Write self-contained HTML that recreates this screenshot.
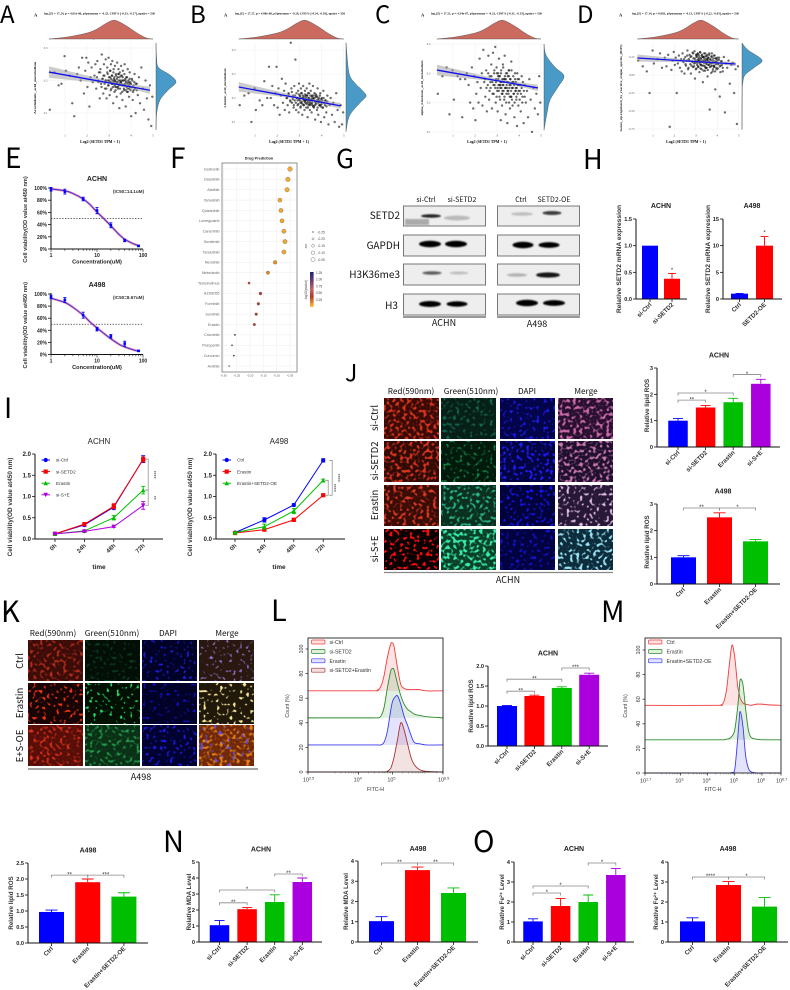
<!DOCTYPE html>
<html lang="en">
<head>
<meta charset="utf-8">
<title>SETD2 ferroptosis figure</title>
<style>
html,body{margin:0;padding:0;background:#fff;width:790px;height:990px;overflow:hidden}
svg{display:block;font-family:"Liberation Sans",Arial,sans-serif}
.letter{font-family:"Noto Sans CJK SC","Liberation Sans",sans-serif;fill:#000}
.hdr{font-family:"Noto Sans CJK SC","Liberation Sans",sans-serif;fill:#111}
</style>
</head>
<body>
<svg id="fig" xmlns="http://www.w3.org/2000/svg" width="790" height="990" viewBox="0 0 790 990">
<defs id="defs">
<filter id="bandBlur" x="-30%" y="-80%" width="160%" height="260%"><feGaussianBlur stdDeviation="0.7"/></filter>
<linearGradient id="sigGrad" x1="0" y1="0" x2="0" y2="1"><stop offset="0" stop-color="#23246e"/><stop offset="0.25" stop-color="#6a3a78"/><stop offset="0.5" stop-color="#c0646e"/><stop offset="0.7" stop-color="#b8342a"/><stop offset="1" stop-color="#fdc33a"/></linearGradient>
</defs>
<rect width="790" height="990" fill="#fff"/>
<text class="letter" x="0" y="23" font-size="24">A</text>
<text class="letter" x="190" y="23" font-size="24">B</text>
<text class="letter" x="375" y="23" font-size="24">C</text>
<text class="letter" x="577" y="23" font-size="24">D</text>
<text class="letter" x="5" y="168" font-size="28">E</text>
<text class="letter" x="170" y="168" font-size="28">F</text>
<text class="letter" x="336" y="168" font-size="26">G</text>
<text class="letter" x="583" y="169" font-size="27">H</text>
<text class="letter" x="4" y="418" font-size="28">I</text>
<text class="letter" x="345" y="381" font-size="23">J</text>
<text class="letter" x="1" y="622" font-size="29">K</text>
<text class="letter" x="271" y="621" font-size="29">L</text>
<text class="letter" x="601" y="622" font-size="29">M</text>
<text class="letter" x="163" y="852" font-size="29">N</text>
<text class="letter" x="473" y="852" font-size="29">O</text>

<g>
  <g fill="#eeeeee" stroke="#777" stroke-width="1">
    <rect x="403.5" y="206" width="82" height="20"/>
    <rect x="403.5" y="235" width="82" height="21"/>
    <rect x="403.5" y="264" width="82" height="21"/>
    <rect x="403.5" y="294" width="82" height="21"/>
    <rect x="497.5" y="206" width="82" height="20"/>
    <rect x="497.5" y="235" width="82" height="21"/>
    <rect x="497.5" y="264" width="82" height="21"/>
    <rect x="497.5" y="294" width="82" height="21"/>
  </g>
  <g filter="url(#bandBlur)" fill="#000">
    <rect x="405" y="219" width="24" height="6" fill="#aaa"/>
    <ellipse cx="431" cy="216" rx="10" ry="1.8" opacity=".85"/>
    <ellipse cx="457" cy="218" rx="13" ry="2.5" opacity=".22"/>
    <ellipse cx="430" cy="244" rx="11" ry="3.2"/>
    <ellipse cx="456" cy="244" rx="11" ry="3.2"/>
    <ellipse cx="432" cy="273" rx="9.5" ry="1.7" opacity=".6"/>
    <ellipse cx="459" cy="273" rx="9.5" ry="1.5" opacity=".2"/>
    <ellipse cx="430" cy="304" rx="11" ry="3"/>
    <ellipse cx="457" cy="304" rx="10.5" ry="2.7"/>
    <ellipse cx="522" cy="214" rx="11" ry="1.7" opacity=".2"/>
    <ellipse cx="552" cy="213" rx="9.5" ry="2" opacity=".75"/>
    <ellipse cx="523" cy="245" rx="10.5" ry="3.2"/>
    <ellipse cx="549" cy="245" rx="10.5" ry="2.9"/>
    <ellipse cx="517" cy="275" rx="10" ry="1.7" opacity=".25"/>
    <ellipse cx="548" cy="275" rx="12" ry="2.6" opacity=".9"/>
    <ellipse cx="527" cy="303" rx="11" ry="3.2"/>
    <ellipse cx="554" cy="303" rx="11" ry="2.9"/>
  </g>
  <g class="hdr" font-size="7" text-anchor="middle" fill="#222">
    <text x="426" y="202">si-Ctrl</text>
    <text x="462" y="202">si-SETD2</text>
    <text x="521" y="202">Ctrl</text>
    <text x="554" y="202">SETD2-OE</text>
  </g>
  <g class="hdr" font-size="10" text-anchor="end">
    <text x="400" y="219">SETD2</text>
    <text x="400" y="249">GAPDH</text>
    <text x="400" y="278">H3K36me3</text>
    <text x="398" y="309">H3</text>
  </g>
  <path d="M403 317H486" stroke="#333" stroke-width="1"/>
  <path d="M497 317H580" stroke="#333" stroke-width="1"/>
  <text class="hdr" x="444" y="326" font-size="9" text-anchor="middle">ACHN</text>
  <text class="hdr" x="537" y="327" font-size="9" text-anchor="middle">A498</text>
</g>

<g id="microJ">
  <g class="hdr" font-size="8.2" text-anchor="middle">
    <text x="411" y="394">Red(590nm)</text>
    <text x="471" y="394">Green(510nm)</text>
    <text x="527" y="394">DAPI</text>
    <text x="586" y="394">Merge</text>
  </g>
  <g class="hdr" font-size="9.5" text-anchor="middle">
    <text transform="translate(378,418) rotate(-90)">si-Ctrl</text>
    <text transform="translate(378,461) rotate(-90)">si-SETD2</text>
    <text transform="translate(378,505) rotate(-90)">Erastin</text>
    <text transform="translate(378,549) rotate(-90)">si-S+E</text>
  </g>
  <path d="M384 572.5H613" stroke="#888" stroke-width="1.2"/>
  <text class="hdr" x="508" y="583" font-size="9" text-anchor="middle">ACHN</text>
</g>
<g id="microK">
  <g class="hdr" font-size="8.2" text-anchor="middle">
    <text x="53" y="636">Red(590nm)</text>
    <text x="112" y="636">Green(510nm)</text>
    <text x="168" y="636">DAPI</text>
    <text x="227" y="636">Merge</text>
  </g>
  <g class="hdr" font-size="9.5" text-anchor="middle">
    <text transform="translate(23,661) rotate(-90)">Ctrl</text>
    <text transform="translate(23,703) rotate(-90)">Erastin</text>
    <text transform="translate(23,746) rotate(-90)">E+S-OE</text>
  </g>
  <path d="M28 769H258" stroke="#888" stroke-width="1.5"/>
  <text class="hdr" x="141" y="780" font-size="9" text-anchor="middle">A498</text>
</g>
</svg>

<script>
/* ---------- correlation panels A-D ---------- */
var setdX=[0.31,0.52,0.71,0.84,0.98,1.04,1.21,1.33,1.42,1.55,1.63,1.71,1.78,1.86,1.92,1.97,2.02,2.06,2.11,2.16,2.21,2.26,2.31,2.34,2.38,2.42,2.47,2.51,2.54,2.58,2.61,2.64,2.67,2.71,2.74,2.77,2.79,2.82,2.85,2.87,2.89,2.92,2.94,2.96,2.98,3.01,3.03,3.05,3.07,3.09,3.11,3.13,3.15,3.17,3.19,3.21,3.23,3.25,3.27,3.29,3.31,3.33,3.35,3.37,3.39,3.41,3.43,3.45,3.47,3.49,3.51,3.53,3.55,3.57,3.59,3.61,3.63,3.65,3.68,3.71,3.73,3.76,3.79,3.82,3.85,3.88,3.91,3.94,3.97,4.01,4.04,4.08,4.12,4.16,4.21,4.26,4.31,4.36,4.41,4.47,4.53,4.59,4.66,4.72,4.79,4.86,4.92,4.97];
var setdXCore=[2.45,2.52,2.6,2.66,2.7,2.75,2.8,2.84,2.88,2.92,2.95,2.98,3.0,3.03,3.06,3.08,3.1,3.12,3.14,3.16,3.18,3.2,3.22,3.24,3.26,3.28,3.3,3.32,3.34,3.36,3.38,3.4,3.42,3.44,3.46,3.48,3.5,3.52,3.54,3.56,3.58,3.6,3.62,3.64,3.66,3.68,3.7,3.72,3.74,3.76,3.78,3.8,3.82,3.84,3.86,3.88,3.9,3.92,3.94,3.96,3.98,4.0,4.03,4.06,4.09,4.12,4.15,4.18,4.22,4.26,3.05,3.15,3.25,3.35,3.45,3.55,3.65,3.75,3.85,3.95];
var scatterAY=[.11,.225,.185,.19,.275,.23,.215,.13,.09,.22,.24,.2,.27,.16,.23,.27,.18,.255,.12,.21,.24,.195,.33,.215,.25,.175,.26,.2,.225,.145,.235,.19,.28,.205,.16,.25,.215,.175,.265,.2,.145,.24,.22,.185,.27,.2,.155,.23,.195,.25,.175,.215,.26,.19,.13,.235,.205,.165,.245,.18,.22,.195,.15,.255,.21,.175,.235,.19,.115,.225,.2,.16,.245,.185,.215,.14,.23,.2,.17,.25,.185,.12,.21,.165,.235,.195,.15,.225,.18,.09,.205,.14,.17,.22,.1,.19,.155,.21,.13,.24,.175,.11,.2,.145,.08,.185,.06,.15];
var scatterBY=[.17,.21,.22,.1,.24,.15,.19,.17,.27,.2,.33,.2,.25,.17,.22,.33,.16,.24,.13,.21,.28,.18,.23,.15,.26,.2,.17,.22,.14,.19,.43,.24,.18,.21,.16,.25,.19,.36,.15,.22,.2,.17,.23,.14,.26,.19,.21,.16,.24,.18,.22,.13,.2,.25,.17,.19,.15,.23,.18,.21,.16,.24,.19,.12,.22,.17,.2,.26,.15,.18,.23,.19,.14,.21,.17,.25,.2,.16,.22,.11,.18,.21,.15,.24,.13,.19,.17,.22,.1,.2,.16,.23,.12,.19,.14,.21,.09,.17,.2,.13,.18,.1,.22,.15,.08,.17,.09,.14];
var scatterCY=[.23,.29,.32,.16,.31,.21,.29,.28,.15,.28,.3,.26,.2,.32,.18,.29,.14,.23,.27,.2,.35,.25,.3,.19,.38,.27,.22,.31,.17,.26,.36,.21,.29,.25,.33,.18,.27,.37,.23,.3,.26,.39,.2,.28,.32,.24,.17,.3,.26,.35,.22,.29,.25,.14,.31,.27,.19,.24,.33,.26,.28,.21,.36,.25,.16,.3,.23,.27,.13,.29,.24,.31,.2,.26,.18,.28,.22,.34,.25,.19,.27,.23,.15,.3,.25,.21,.12,.28,.19,.26,.24,.17,.29,.22,.13,.26,.2,.24,.15,.28,.21,.1,.25,.18,.23,.16,.29,.2];
var scatterDY=[.2,.12,.05,-.25,.34,.16,.22,.3,.1,.24,.12,.28,-.72,.07,.2,.32,.14,.24,-.25,.16,.27,.1,.22,.05,.3,.18,.02,.25,.13,.2,.34,.08,.22,.28,.15,.02,.26,.19,.31,.11,.23,.16,.33,-.05,.2,.28,.09,.25,.17,.3,.12,.22,.27,.04,.19,.31,.14,.24,.08,.28,.18,-.1,.25,.13,.3,.2,.06,.26,.16,.22,.1,.28,-.02,.19,.24,.14,.3,-.48,.21,.12,.26,.17,.05,.23,.11,.27,-.2,.18,.08,.24,.15,.21,-.3,.13,.19,.05,.25,-.52,.16,.1,.2,-.12,.14,.17,-.25,.08,-.68,.12];
var coreAY=[.21,.195,.225,.18,.205,.215,.19,.2,.175,.225,.2,.185,.21,.195,.23,.17,.205,.19,.215,.2,.18,.225,.195,.21,.185,.2,.17,.215,.19,.205,.195,.18,.22,.2,.185,.21,.175,.195,.215,.19,.2,.165,.21,.185,.2,.175,.22,.19,.205,.17,.195,.18,.21,.19,.165,.2,.185,.175,.205,.195,.17,.19,.18,.2,.165,.185,.195,.175,.19,.17,.21,.19,.2,.18,.22,.195,.185,.2,.175,.19];
var coreBY=[.2,.215,.185,.225,.195,.17,.21,.18,.2,.19,.175,.215,.195,.205,.165,.22,.185,.2,.175,.21,.195,.17,.205,.185,.215,.19,.2,.175,.21,.18,.16,.2,.185,.22,.195,.17,.21,.19,.175,.205,.18,.195,.165,.21,.19,.2,.17,.185,.215,.175,.19,.205,.16,.195,.18,.2,.17,.21,.185,.165,.195,.175,.19,.16,.2,.18,.17,.19,.165,.185,.18,.2,.19,.21,.175,.195,.165,.205,.185,.17];
var coreCY=[.28,.25,.3,.24,.27,.29,.23,.26,.31,.25,.27,.22,.3,.25,.28,.24,.29,.26,.21,.27,.3,.25,.23,.28,.26,.32,.24,.27,.22,.29,.25,.28,.2,.26,.3,.24,.27,.23,.29,.25,.22,.28,.26,.24,.31,.21,.27,.25,.29,.23,.26,.2,.28,.24,.27,.22,.25,.3,.23,.26,.24,.28,.21,.26,.23,.25,.2,.27,.24,.22,.29,.26,.23,.28,.25,.31,.22,.27,.24,.26];
var coreDY=[.22,.15,.27,.1,.2,.25,.13,.18,.3,.12,.23,.17,.08,.26,.14,.21,.29,.11,.19,.24,.16,.32,.09,.22,.18,.27,.13,.2,.25,.06,.17,.23,.12,.3,.19,.1,.26,.15,.21,.07,.24,.14,.28,.18,.11,.22,.16,.03,.25,.13,.2,.08,.17,.27,.12,.19,.05,.23,.15,.1,.18,.21,.09,.16,.24,.12,.04,.19,.14,.1,.28,.2,.14,.25,.1,.22,.17,.3,.13,.23];
var topDensX=[0.27,1.1,2,2.45,2.9,3.27,3.8,4.27,4.7,5];
var topDensV=[0,2,6,10,16,18.7,13,6,1,0];
var rightAY=[.315,.27,.24,.217,.195,.17,.14,.1,.048];
var rightAV=[0,.6,2.5,14,20,12,4,.7,0];
var rightBY=[.43,.304,.262,.233,.208,.18,.137,.108,.06];
var rightBV=[0,3,9,16,20,14,5,2,0];
var rightCY=[.4,.362,.321,.291,.253,.209,.164,.106];
var rightCV=[0,2,11,20,14,6,3,0];
var rightDY=[.444,.347,.208,.111,0,-.11,-.25,-.76];
var rightDV=[0,6,20,13,3,.8,.2,0];
var setdTicks=[1,2,3,4,5];
var yTicksA=[.3,.2,.1];
var yTicksB=[.4,.3,.2,.1];
var yTicksC=[.4,.3,.2,.1];
var yTicksD=[.25,0,-.25,-.5,-.75];
var fitA=[.27,.226,4.86,.17];
var fitB=[.27,.246,4.86,.167];
var fitC=[.27,.311,4.86,.25];
var fitD=[.27,.236,4.86,.153];

/* ---------- dose response E ---------- */
var doseLevels=[1,2,5,10,20,40,80];
var achnDoseMean=[98,94,82,63,39,14,5];
var achnDoseErr=[3,4,3,5,4,2,1];
var a498DoseMean=[95,90,65,42,30,18,6];
var a498DoseErr=[3,4,5,3,3,4,1];
var doseCurveX=[1,2,3,5,7,10,14,20,30,40,60,80];
var achnCurveY=[98.5,95.5,91,82,73,60.5,50,38,24,16,9,5.5];
var a498CurveY=[93,86,78,65,54,44,35,26,17,12.5,8,5.5];
var percentTicks=[0,20,40,60,80,100];

/* ---------- drug prediction F ---------- */
var drugNames=["Cediranib","Dasatinib","Afatinib","Tamatinib","Quizartinib","Lomeguatrib","Canertinib","Sorafenib","Tandutinib","Neratinib","Nintedanib","Temsirolimus","AZD8055","Foretinib","Sunitinib","Erastin","Crizotinib","Pazopanib","Curcumin","Axitinib"];
var drugCor=[-.05,-.058,-.061,-.088,-.084,-.08,-.073,-.069,-.073,-.106,-.133,-.204,-.161,-.169,-.177,-.184,-.257,-.268,-.261,-.279];
var drugSig=[.2,.2,.2,.22,.22,.22,.22,.22,.22,.3,.33,.45,.55,.55,.5,.48,1.2,1.2,1.2,1.25];
var corTicks=[-.30,-.25,-.20,-.15,-.10,-.05];
var corLegend=[-.25,-.20,-.15,-.10,-.05];
var sigLegend=[1.25,1,.75,.5,.25];

/* ---------- bar charts ---------- */
var catsSi=["si-Ctrl","si-SETD2","Erastin","si-S+E"];
var catsOe=["Ctrl","Erastin","Erastin+SETD2-OE"];
var hAchnCats=["si-Ctrl","si-SETD2"], hAchnVals=[1,.38], hAchnErrs=[0,.1], hAchnTicks=[0,.5,1,1.5], hAchnBr=[[1,1,.53,"*"]];
var hA498Cats=["Ctrl","SETD2-OE"], hA498Vals=[1,10], hA498Errs=[.05,1.7], hA498Ticks=[0,5,10,15], hA498Br=[[1,1,12.3,"*"]];
var jAchnVals=[1,1.5,1.7,2.4], jAchnErrs=[.08,.08,.15,.17], jAchnTicks=[0,1,2,3], jAchnBr=[[0,1,1.78,"**"],[0,2,2.05,"*"],[2,3,2.75,"*"]];
var jA498Vals=[1,2.5,1.6], jA498Errs=[.06,.17,.07], jA498Ticks=[1,2,3,0], jA498Br=[[0,1,2.85,"**"],[1,2,2.85,"*"]];
var lAchnVals=[1,1.25,1.45,1.78], lAchnErrs=[.01,.02,.03,.04], lAchnTicks=[0,.5,1,1.5,2], lAchnBr=[[0,1,1.37,"**"],[0,2,1.67,"**"],[2,3,1.95,"***"]];
var mA498Vals=[.97,1.9,1.45], mA498Errs=[.06,.1,.12], mA498Ticks=[0,.5,1,1.5,2,2.5], mA498Br=[[0,1,2.12,"**"],[1,2,2.12,"***"]];
var nAchnVals=[1.05,2.05,2.5,3.75], nAchnErrs=[.3,.1,.45,.25], nAchnTicks=[0,1,2,3,4,5], nAchnBr=[[0,1,2.45,"**"],[0,2,3.25,"*"],[2,3,4.25,"**"]];
var nA498Vals=[1.03,3.55,2.42], nA498Errs=[.22,.15,.25], nA498Ticks=[0,1,2,3,4], nA498Br=[[0,1,3.9,"**"],[1,2,3.9,"**"]];
var oAchnVals=[1.03,1.8,2,3.35], oAchnErrs=[.13,.38,.35,.33], oAchnTicks=[0,1,2,3,4], oAchnBr=[[0,1,2.45,"*"],[0,2,2.8,"*"],[2,3,3.95,"*"]];
var oA498Vals=[1.03,2.85,1.77], oA498Errs=[.18,.17,.45], oA498Ticks=[0,1,2,3,4], oA498Br=[[0,1,3.25,"****"],[1,2,3.25,"*"]];

/* ---------- time-course I ---------- */
var timeCats=["0h","24h","48h","72h"];
var viabTicks=[0,.5,1,1.5,2];
var i1Names=["si-Ctrl","si-SETD2","Erastin","si-S+E"];
var i1Ctrl=[.12,.33,.75,1.88], i1Ctrle=[.01,.03,.06,.08];
var i1Setd=[.12,.35,.77,1.87], i1Setde=[.01,.03,.06,.06];
var i1Era=[.12,.19,.5,1.15], i1Erae=[.01,.02,.05,.09];
var i1Sie=[.12,.18,.29,.79], i1Siee=[.01,.02,.02,.09];
var i1Br=[[1.88,1.15,"****",5],[1.15,.79,"**",5]];
var i2Names=["Ctrl","Erastin","Erastin+SETD2-OE"];
var i2Ctrl=[.15,.45,.8,1.85], i2Ctrle=[.01,.05,.03,.04];
var i2Era=[.14,.22,.45,1.03], i2Erae=[.01,.03,.04,.03];
var i2Combo=[.15,.29,.66,1.38], i2Comboe=[.01,.06,.06,.03];
var i2Br=[[1.85,1.03,"****",9],[1.38,1.03,"****",5]];

/* ---------- flow histograms L, M ---------- */
var histLX=[2.5,4.4,4.55,4.65,4.75,4.85,4.95,5.0,5.05,5.15,5.25,5.35,5.45,5.55,5.65,5.8,6.0,6.5];
var histLCtrl=[66,66,66.5,69,78,93,104,105,102,85,71,68,67,67,67,67,66,66];
var histLSetd=[44,44,44,45,52,68,82,84,83,72,62,55,51,49,47,46,45,44];
var histLEra=[22,22,22,22,24,33,50,57,60,62,55,45,38,30,24,23,22,22];
var histLCombo=[0,0,0,0,0,.5,3,7,12,26,40,34,23,12,6,2,.5,0];
var histLBase=[66,44,22,0];
var histLNames=["si-Ctrl","si-SETD2","Erastin","si-SETD2+Erastin"];
var histMX=[1.7,4.3,4.5,4.6,4.7,4.8,4.9,5.0,5.1,5.15,5.2,5.3,5.4,5.5,5.6,5.8,6.0,6.2,6.7];
var histMCtrl=[55,55,55.5,58,68,88,104,94,72,66,61,57,56,55.5,55,56,56,55.5,55];
var histMEra=[27,27,27,27,27.5,28,30,35,52,64,76,72,52,35,29,27.5,27,27,27];
var histMCombo=[0,0,0,0,0,0,.5,3,26,40,50,38,14,4,1,0,0,0,0];
var histMBase=[55,27,0];
var histMNames=["Ctrl","Erastin","Erastin+SETD2-OE"];
var countTicks=[0,20,40,60,80,100];

var NS='http://www.w3.org/2000/svg';
var svg=document.getElementById('fig');
var defs=document.getElementById('defs');
function mk(tag,attrs,parent){var e=document.createElementNS(NS,tag);for(var k in attrs)e.setAttribute(k,attrs[k]);(parent||svg).appendChild(e);return e;}
function txt(parent,x,y,s,size,o){o=o||{};var a={x:x,y:y,'font-size':size,fill:o.fill||'#222'};
 if(o.anchor)a['text-anchor']=o.anchor; if(o.weight)a['font-weight']=o.weight; if(o.family)a['font-family']=o.family;
 if(o.rot!==undefined){a.x=0;a.y=0;a.transform='translate('+x+','+y+') rotate('+o.rot+')';}
 if(o.len){a.textLength=o.len;a.lengthAdjust='spacingAndGlyphs';}
 var e=mk('text',a,parent);e.textContent=s;return e;}
function smooth(pts){var d='M'+pts[0][0].toFixed(2)+' '+pts[0][1].toFixed(2);
 for(var i=0;i<pts.length-1;i++){var p0=pts[Math.max(i-1,0)],p1=pts[i],p2=pts[i+1],p3=pts[Math.min(i+2,pts.length-1)];
  var t=.16;
  d+='C'+(p1[0]+(p2[0]-p0[0])*t).toFixed(2)+' '+(p1[1]+(p2[1]-p0[1])*t).toFixed(2)+' '+(p2[0]-(p3[0]-p1[0])*t).toFixed(2)+' '+(p2[1]-(p3[1]-p1[1])*t).toFixed(2)+' '+p2[0].toFixed(2)+' '+p2[1].toFixed(2);}
 return d;}

/* ---- scatter with marginal densities ---- */
function drawScatter(c){
 var g=mk('g',{});
 
 
 var sx=function(v){return c.xAt1+(v-1)*c.xStep;};
 var sy=function(v){return c.yRef+(c.yRefVal-v)*c.yScale;};
 var ttl=txt(g,c.titleX,14.5,c.title,3.4,{family:'"Liberation Serif",serif',fill:'#111',len:c.titleW,weight:'bold'});
 
 
 var tag=txt(g,c.tagX,16.5,'A',4.5,{family:'"Liberation Serif",serif',weight:'bold',fill:'#111'});
 
 
 setdTicks.forEach(function(t){
  var gl=mk('line',{x1:sx(t),x2:sx(t),y1:43,y2:131,stroke:'#efefef','stroke-width':.5},g);
  
  
  var tl=txt(g,sx(t),136.5,String(t),3.5,{anchor:'middle',fill:'#555',family:'"Liberation Serif",serif'});
  
  
 });
 c.yTicks.forEach(function(t){
  var gl=mk('line',{x1:c.x0,x2:c.x1,y1:sy(t),y2:sy(t),stroke:'#efefef','stroke-width':.5},g);
  
  
  var tl=txt(g,c.x0-1.5,sy(t)+1,t.toFixed(c.dec),3,{anchor:'end',fill:'#555',family:'"Liberation Serif",serif'});
  
  
 });
 var xs=setdX.concat(setdXCore),ys=c.ys.concat(c.core);
 var n=Math.min(xs.length,ys.length);
 for(var i=0;i<n;i++){
  var p=mk('circle',{cx:sx(xs[i]),cy:sy(ys[i]),r:1.05,fill:'#111','fill-opacity':.6,stroke:'#000','stroke-width':.15},g);
  
  
 }
 var f=c.fit,hw=c.ci;
 var band=mk('path',{d:'M'+sx(f[0])+' '+sy(f[1]+hw)+'L'+sx((f[0]+f[2])/2+.6)+' '+sy(f[1]+(f[3]-f[1])*.6+hw*.2)+'L'+sx(f[2])+' '+sy(f[3]+hw*.6)+'L'+sx(f[2])+' '+sy(f[3]-hw*.6)+'L'+sx((f[0]+f[2])/2+.6)+' '+sy(f[1]+(f[3]-f[1])*.6-hw*.2)+'L'+sx(f[0])+' '+sy(f[1]-hw)+'Z',fill:'#999','fill-opacity':.5},g);
 
 
 var ln=mk('line',{x1:sx(f[0]),y1:sy(f[1]),x2:sx(f[2]),y2:sy(f[3]),stroke:'#1010f0','stroke-width':1.3},g);
 
 
 var tp=topDensX.map(function(v,i){return [sx(v),39-topDensV[i]];});
 var top=mk('path',{d:smooth(tp)+'L'+sx(topDensX[topDensX.length-1])+' 39L'+sx(topDensX[0])+' 39Z',fill:'#cb6a5e',stroke:'#444','stroke-width':.4},g);
 
 
 var rp=c.rightY.map(function(v,i){return [c.rx+c.rightV[i],sy(v)];});
 var right=mk('path',{d:smooth(rp)+'L'+c.rx+' '+sy(c.rightY[c.rightY.length-1])+'L'+c.rx+' '+sy(c.rightY[0])+'Z',fill:'#4a9ac7',stroke:'#444','stroke-width':.4},g);
 
 
 var xl=txt(g,c.xLabelX,143,'Log2 (SETD1 TPM + 1)',3.9,{anchor:'middle',weight:'bold',family:'"Liberation Serif",serif',fill:'#111'});
 
 
 var yl=txt(g,c.yLabelX,88,c.yLabel,3.3,{anchor:'middle',weight:'bold',family:'"Liberation Serif",serif',fill:'#111',rot:-90,len:c.yLabelW});
 
 
}
drawScatter({name:'scatter-a',x0:49,x1:153,rx:156,xAt1:65,xStep:22,yRef:48,yRefVal:.3,yScale:325,yTicks:yTicksA,dec:1,ys:scatterAY,core:coreAY,fit:fitA,ci:.018,rightY:rightAY,rightV:rightAV,
 title:'log\u2082(Z) = 17.24, p = 4.01e-06, \u03C1Spearman = -0.25, CI95% [-0.33, -0.17], npairs = 530',titleX:44,titleW:111,tagX:34,xLabelX:100,yLabelX:36,yLabelW:52,yLabel:'Arachidonic_acid_metabolism'});
drawScatter({name:'scatter-b',x0:237,x1:343,rx:346,xAt1:255,xStep:22.2,yRef:50,yRefVal:.4,yScale:240,yTicks:yTicksB,dec:1,ys:scatterBY,core:coreBY,fit:fitB,ci:.02,rightY:rightBY,rightV:rightBV,
 title:'log\u2082(Z) = 17.27, p = 4.88e-08, \u03C1Spearman = -0.26, CI95% [-0.34, -0.18], npairs = 530',titleX:235,titleW:110,tagX:224,xLabelX:289,yLabelX:226,yLabelW:39,yLabel:'Linoleic_acid_metabolism'});
drawScatter({name:'scatter-c',x0:432,x1:542,rx:544,xAt1:453,xStep:22,yRef:44,yRefVal:.4,yScale:293,yTicks:yTicksC,dec:1,ys:scatterCY,core:coreCY,fit:fitC,ci:.018,rightY:rightCY,rightV:rightCV,
 title:'log\u2082(Z) = 17.21, p = 4.34e-07, \u03C1Spearman = -0.23, CI95% [-0.31, -0.15], npairs = 530',titleX:431,titleW:111,tagX:421,xLabelX:487,yLabelX:423,yLabelW:55,yLabel:'alpha_Linolenic_acid_metabolism'});
drawScatter({name:'scatter-d',x0:636,x1:738,rx:742,xAt1:653,xStep:21.4,yRef:57,yRefVal:.25,yScale:72,yTicks:yTicksD,dec:2,ys:scatterDY,core:coreDY,fit:fitD,ci:.05,rightY:rightDY,rightV:rightDV,
 title:'log\u2082(Z) = 17.14, p = 0.003, \u03C1Spearman = -0.13, CI95% [-0.22, -0.05], npairs = 530',titleX:632,titleW:107,tagX:619,xLabelX:686,yLabelX:622,yLabelW:87,yLabel:'Genes_up-regulated_by_reactive_oxigen_species_(ROS)'});

/* ---- dose response ---- */
function drawDose(c){
 var g=mk('g',{});
 
 
 var sx=function(d){return 51+Math.log10(d)*46;};
 var sy=function(v){return c.y0-v/100*(c.y0-c.yTop);};
 var t=txt(g,97,c.yTop-7,c.title,7,{anchor:'middle',weight:'bold'});
 
 
 var ic=txt(g,144,c.yTop+5,c.ic,4.6,{anchor:'end',weight:'bold',fill:'#333'});
 
 
 var axy=mk('line',{x1:51,x2:51,y1:c.yTop-1,y2:c.y0,stroke:'#111','stroke-width':1},g);
 
 
 var axx=mk('line',{x1:51,x2:143,y1:c.y0,y2:c.y0,stroke:'#111','stroke-width':1},g);
 
 
 percentTicks.forEach(function(p){
  var k=mk('line',{x1:48,x2:51,y1:sy(p),y2:sy(p),stroke:'#111','stroke-width':.8},g);
  
  
  var l=txt(g,47,sy(p)+2,p+'%',5,{anchor:'end',weight:'bold'});
  
  
 });
 [1,2,3,4,5,6,7,8,9,10,20,30,40,50,60,70,80,90,100].forEach(function(d){
  var major=(d===1||d===10||d===100);
  var k=mk('line',{x1:sx(d),x2:sx(d),y1:c.y0,y2:c.y0+(major?3:1.8),stroke:'#111','stroke-width':.6},g);
  
  
  if(major){
   var l=txt(g,sx(d),c.y0+8,String(d),5,{anchor:'middle',weight:'bold'});
   
   
  }
 });
 var dl=mk('line',{x1:51,x2:143,y1:sy(50),y2:sy(50),stroke:'#333','stroke-width':.8,'stroke-dasharray':'1.4 1.4'},g);
 
 
 var pts=doseCurveX.map(function(d,i){return [sx(d),sy(c.curve[i])];});
 var glow=mk('path',{d:smooth(pts),fill:'none',stroke:'#f07090','stroke-width':2.4,'stroke-opacity':.75},g);
 
 
 var fit=mk('path',{d:smooth(pts),fill:'none',stroke:'#3030e0','stroke-width':.9},g);
 
 
 doseLevels.forEach(function(d,i){
  var e=mk('path',{d:'M'+sx(d)+' '+sy(c.mean[i]+c.err[i])+'V'+sy(c.mean[i]-c.err[i])+'M'+(sx(d)-1.5)+' '+sy(c.mean[i]+c.err[i])+'h3M'+(sx(d)-1.5)+' '+sy(c.mean[i]-c.err[i])+'h3',stroke:'#0000ff','stroke-width':.9,fill:'none'},g);
  
  
  var m=mk('rect',{x:sx(d)-1.3,y:sy(c.mean[i])-1.3,width:2.6,height:2.6,fill:'#0000ff'},g);
  
  
 });
 var yl=txt(g,27,(c.yTop+c.y0)/2+1,'Cell viability(OD value at450 nm)',5.6,{anchor:'middle',weight:'bold',rot:-90,fill:'#333'});
 
 
 var xl=txt(g,97,c.y0+14.5,'Concentration(uM)',5.6,{anchor:'middle',weight:'bold'});
 
 
}
drawDose({name:'dose-curve-achn',title:'ACHN',ic:'(IC50=14.1uM)',y0:249,yTop:188,mean:achnDoseMean,err:achnDoseErr,curve:achnCurveY});
drawDose({name:'dose-curve-a498',title:'A498',ic:'(IC50=8.67uM)',y0:354.5,yTop:294,mean:a498DoseMean,err:a498DoseErr,curve:a498CurveY});

/* ---- drug dot plot ---- */
(function(){
 var g=mk('g',{});
 
 
 var sx=function(v){return 290+(v+.05)*266;};
 var sy=function(i){return 169+i*10.37;};
 var sr=function(v){return 2.3+(v+.05)*7.5;};
 var sigCol=function(s){
  var stops=[[.1,[253,195,58]],[.3,[232,148,42]],[.5,[184,52,42]],[.75,[192,100,110]],[1,[106,58,120]],[1.25,[35,36,110]]];
  for(var i=0;i<stops.length-1;i++){ if(s<=stops[i+1][0]){ var f=Math.max(0,(s-stops[i][0])/(stops[i+1][0]-stops[i][0]));
    var a=stops[i][1],b=stops[i+1][1]; return 'rgb('+Math.round(a[0]+(b[0]-a[0])*f)+','+Math.round(a[1]+(b[1]-a[1])*f)+','+Math.round(a[2]+(b[2]-a[2])*f)+')'; } }
  return 'rgb(35,36,110)';};
 var t=txt(g,259,159.5,'Drug Prediction',3.8,{anchor:'middle',weight:'bold'});
 
 
 corTicks.forEach(function(v){
  var gl=mk('line',{x1:sx(v),x2:sx(v),y1:163,y2:372,stroke:'#eee','stroke-width':.5},g);
  
  
  var l=txt(g,sx(v),376.5,v.toFixed(2),2.9,{anchor:'middle',fill:'#555'});
  
  
 });
 drugNames.forEach(function(n,i){
  var gl=mk('line',{x1:222,x2:297,y1:sy(i),y2:sy(i),stroke:'#eee','stroke-width':.5},g);
  
  
  var l=txt(g,219.5,sy(i)+1.3,n,3.7,{anchor:'end',fill:'#666'});
  
  
  var d=mk('circle',{cx:sx(drugCor[i]),cy:sy(i),r:Math.max(.35,sr(drugCor[i])),fill:sigCol(drugSig[i]),stroke:'#333','stroke-width':.25},g);
  
  
 });
 var box=mk('rect',{x:222,y:163,width:75,height:209,fill:'none',stroke:'#888','stroke-width':.9},g);
 
 
 corLegend.forEach(function(v,i){
  var d=mk('circle',{cx:313,cy:232+i*6.9,r:Math.max(.4,sr(v)*.9),fill:'#fff',stroke:'#555','stroke-width':.4},g);
  
  
  var l=txt(g,317.5,233.3+i*6.9,v.toFixed(2),3.2,{fill:'#444'});
  
  
 });
 var ct=txt(g,307,246,'cor',3.4,{anchor:'middle',rot:-90,fill:'#444'});
 
 
 var bar=mk('rect',{x:310,y:272,width:3.6,height:35,fill:'url(#sigGrad)'},g);
 
 
 sigLegend.forEach(function(v,i){
  var l=txt(g,316,274+i*6.7,v.toFixed(2),3.2,{fill:'#444'});
  
  
 });
 var st=txt(g,307,290,'-log10(pvalue)',3.2,{anchor:'middle',rot:-90,fill:'#444'});
 
 
})();

/* ---- bar charts ---- */
var siColors=['#0000ff','#ff0000','#00bf00','#aa00dd'];
var oeColors=['#0000ff','#ff0000','#00bf00'];
function drawBars(c){
 var g=mk('g',{});
 
 
 var sy=function(v){return c.y0-(v/c.yMax)*(c.y0-c.yTop);};
 var bx=function(i){return c.first+c.step*i;};
 var t=txt(g,c.titleX,c.titleY,c.title,7,{anchor:'middle',weight:'bold',fill:'#222'});
 
 
 c.vals.forEach(function(v,i){
  var col=c.colors[i];
  var b=mk('rect',{x:bx(i)-c.barW/2,y:sy(v),width:c.barW,height:c.y0-sy(v),fill:col},g);
  
  
  if(c.errs[i]>0.005){
   var e=mk('path',{d:'M'+bx(i)+' '+sy(v)+'V'+sy(v+c.errs[i])+'M'+(bx(i)-c.capW)+' '+sy(v+c.errs[i])+'h'+(c.capW*2),stroke:col,'stroke-width':.9,fill:'none'},g);
   
   
  }
  var k=mk('line',{x1:bx(i),x2:bx(i),y1:c.y0,y2:c.y0+3,stroke:'#111','stroke-width':.8},g);
  
  
  var l=txt(g,bx(i)+2,c.y0+6,c.cats[i],c.catSize||6.2,{anchor:'end',rot:-45,fill:'#333',weight:'bold'});
  
  
 });
 var ya=mk('line',{x1:c.x0,x2:c.x0,y1:c.yTop,y2:c.y0+.5,stroke:'#111','stroke-width':1},g);
 
 
 var xa=mk('line',{x1:c.x0,x2:c.xEnd,y1:c.y0,y2:c.y0,stroke:'#111','stroke-width':1},g);
 
 
 c.ticks.forEach(function(v){
  var k=mk('line',{x1:c.x0-3,x2:c.x0,y1:sy(v),y2:sy(v),stroke:'#111','stroke-width':.8},g);
  
  
  var l=txt(g,c.x0-4,sy(v)+2,v.toFixed(c.dec),5.6,{anchor:'end',weight:'bold',fill:'#222'});
  
  
 });
 var yl=txt(g,c.ylX,(c.y0+c.yTop)/2+(c.ylDy||0),c.ylabel,c.ylSize||6.2,{anchor:'middle',weight:'bold',rot:-90,fill:'#333'});
 
 
 c.br.forEach(function(b){
  var x1=bx(b[0]),x2=bx(b[1]),y=sy(b[2]);
  if(b[0]!==b[1]){
   var p=mk('path',{d:'M'+x1+' '+(y+2.5)+'V'+y+'H'+x2+'V'+(y+2.5),stroke:'#888','stroke-width':.8,fill:'none'},g);
   
   
  }
  var s=txt(g,(x1+x2)/2,y+1.2,b[3],6,{anchor:'middle',fill:'#333'});
  
  
 });
}
drawBars({name:'bar-chart-h-achn',title:'ACHN',titleX:661,titleY:208,x0:636,xEnd:687,y0:299,yTop:219,yMax:1.5,ticks:hAchnTicks,dec:1,cats:hAchnCats,vals:hAchnVals,errs:hAchnErrs,colors:['#0000ff','#ff0000'],first:650,step:22,barW:16,capW:4,ylabel:'Relative SETD2 mRNA expression',ylX:621,ylDy:0,ylSize:6.7,br:hAchnBr});
drawBars({name:'bar-chart-h-a498',title:'A498',titleX:752,titleY:208,x0:723,xEnd:782,y0:299,yTop:219,yMax:15,ticks:hA498Ticks,dec:0,cats:hA498Cats,vals:hA498Vals,errs:hA498Errs,colors:['#0000ff','#ff0000'],first:739.5,step:25,barW:17,capW:4,ylabel:'Relative SETD2 mRNA expression',ylX:710,ylDy:0,ylSize:6.7,br:hA498Br});
drawBars({name:'bar-chart-j-achn',title:'ACHN',titleX:719,titleY:357.5,x0:657,xEnd:780,y0:447,yTop:368,yMax:3,ticks:jAchnTicks,dec:0,cats:catsSi,vals:jAchnVals,errs:jAchnErrs,colors:siColors,first:678,step:27.6,barW:19.5,capW:5,ylabel:'Relative lipid ROS',ylX:649,ylDy:-2,br:jAchnBr});
drawBars({name:'bar-chart-j-a498',title:'A498',titleX:723,titleY:493.5,x0:657,xEnd:780,y0:584,yTop:504,yMax:3,ticks:jA498Ticks,dec:0,cats:catsOe,vals:jA498Vals,errs:jA498Errs,colors:oeColors,first:683.5,step:36,barW:25,capW:6,ylabel:'Relative lipid ROS',ylX:649,ylDy:-2,br:jA498Br});
drawBars({name:'bar-chart-l-achn',title:'ACHN',titleX:548,titleY:655.5,x0:488,xEnd:608,y0:746,yTop:666,yMax:2,ticks:lAchnTicks,dec:1,cats:catsSi,vals:lAchnVals,errs:lAchnErrs,colors:siColors,first:507,step:27.4,barW:20,capW:5,ylabel:'Relative lipid ROS',ylX:473,ylDy:0,br:lAchnBr});
drawBars({name:'bar-chart-m-a498',title:'A498',titleX:88,titleY:852.5,x0:28,xEnd:148,y0:943,yTop:863,yMax:2.5,ticks:mA498Ticks,dec:1,cats:catsOe,vals:mA498Vals,errs:mA498Errs,colors:oeColors,first:51.5,step:36.2,barW:25,capW:6,ylabel:'Relative lipid ROS',ylX:13,ylDy:0,br:mA498Br});
drawBars({name:'bar-chart-n-achn',title:'ACHN',titleX:261,titleY:851.5,x0:199,xEnd:322,y0:942,yTop:862,yMax:5,ticks:nAchnTicks,dec:0,cats:catsSi,vals:nAchnVals,errs:nAchnErrs,colors:siColors,first:219.5,step:27.6,barW:19.5,capW:5,ylabel:'Relative MDA Level',ylX:191,ylDy:0,br:nAchnBr});
drawBars({name:'bar-chart-n-a498',title:'A498',titleX:418,titleY:851,x0:358,xEnd:478,y0:942,yTop:861,yMax:4,ticks:nA498Ticks,dec:0,cats:catsOe,vals:nA498Vals,errs:nA498Errs,colors:oeColors,first:381.5,step:36,barW:25,capW:6,ylabel:'Relative MDA Level',ylX:348,ylDy:0,br:nA498Br});
drawBars({name:'bar-chart-o-achn',title:'ACHN',titleX:574,titleY:851,x0:514,xEnd:634,y0:942,yTop:862,yMax:4,ticks:oAchnTicks,dec:0,cats:catsSi,vals:oAchnVals,errs:oAchnErrs,colors:siColors,first:533,step:27.6,barW:19.5,capW:5,ylabel:'Relative Fe\u00B2\u207A Level',ylX:504,ylDy:0,br:oAchnBr});
drawBars({name:'bar-chart-o-a498',title:'A498',titleX:728,titleY:851,x0:668,xEnd:788,y0:942,yTop:862,yMax:4,ticks:oA498Ticks,dec:0,cats:catsOe,vals:oA498Vals,errs:oA498Errs,colors:oeColors,first:692.5,step:36,barW:25,capW:6,ylabel:'Relative Fe\u00B2\u207A Level',ylX:658,ylDy:0,br:oA498Br});

/* ---- line charts I ---- */
function marker(g,kind,x,y,col){
 var s=2.1,e;
 if(kind==='circle') e=mk('circle',{cx:x,cy:y,r:s,fill:col},g);
 else if(kind==='square') e=mk('rect',{x:x-s,y:y-s,width:s*2,height:s*2,fill:col},g);
 else if(kind==='up') e=mk('path',{d:'M'+x+' '+(y-s*1.1)+'L'+(x+s*1.1)+' '+(y+s)+'L'+(x-s*1.1)+' '+(y+s)+'Z',fill:col},g);
 else e=mk('path',{d:'M'+x+' '+(y+s*1.1)+'L'+(x+s*1.1)+' '+(y-s)+'L'+(x-s*1.1)+' '+(y-s)+'Z',fill:col},g);
 return e;
}
function drawLines(c){
 var g=mk('g',{});
 
 
 var y0=539,yTop=454;
 var sy=function(v){return y0-v/2*(y0-yTop);};
 var sx=function(i){return c.xStart+i*c.step;};
 var t=txt(g,c.titleX,444,c.title,8,{anchor:'middle',fill:'#222'});
 
 
 var ya=mk('line',{x1:c.x0,x2:c.x0,y1:yTop,y2:y0,stroke:'#111','stroke-width':1},g);
 
 
 var xa=mk('line',{x1:c.x0,x2:c.xEnd,y1:y0,y2:y0,stroke:'#111','stroke-width':1},g);
 
 
 viabTicks.forEach(function(v){
  var k=mk('line',{x1:c.x0-3,x2:c.x0,y1:sy(v),y2:sy(v),stroke:'#111','stroke-width':.8},g);
  
  
  var l=txt(g,c.x0-4,sy(v)+2.2,v.toFixed(1),6,{anchor:'end',weight:'bold',fill:'#222'});
  
  
 });
 timeCats.forEach(function(n,i){
  var k=mk('line',{x1:sx(i),x2:sx(i),y1:y0,y2:y0+3,stroke:'#111','stroke-width':.8},g);
  
  
  var l=txt(g,sx(i)+2,y0+7,n,6,{anchor:'end',rot:-45,fill:'#333',weight:'bold'});
  
  
 });
 c.series.forEach(function(s,si){
  var d=s.v.map(function(v,i){return (i?'L':'M')+sx(i)+' '+sy(v);}).join('');
  var ln=mk('path',{d:d,fill:'none',stroke:s.col,'stroke-width':1},g);
  
  
  s.v.forEach(function(v,i){
   var e=mk('path',{d:'M'+sx(i)+' '+sy(v+s.e[i])+'V'+sy(v-s.e[i])+'M'+(sx(i)-2)+' '+sy(v+s.e[i])+'h4M'+(sx(i)-2)+' '+sy(v-s.e[i])+'h4',stroke:s.col,'stroke-width':.9,fill:'none'},g);
   
   
   var m=marker(g,s.m,sx(i),sy(v),s.col);
   
   
  });
  var ly=460+si*11.6;
  var ll=mk('line',{x1:c.x0+6.5,x2:c.x0+15,y1:ly,y2:ly,stroke:s.col,'stroke-width':1},g);
  
  
  var lm=marker(g,s.m,c.x0+10.7,ly,s.col);
  
  
  var lt=txt(g,c.x0+21,ly+1.7,s.n,4.6,{fill:'#333'});
  
  
 });
 c.br.forEach(function(b){
  var x=sx(3)+b[3],y1=sy(b[0]),y2=sy(b[1]);
  var p=mk('path',{d:'M'+(x-3)+' '+y1+'H'+x+'V'+y2+'H'+(x-3),fill:'none',stroke:'#888','stroke-width':.7},g);
  
  
  var s=txt(g,x+4,(y1+y2)/2,b[2],5.2,{anchor:'middle',rot:90,fill:'#333'});
  
  
 });
 var yl=txt(g,c.ylX,507,'Cell viability(OD value at450 nm)',6.4,{anchor:'middle',weight:'bold',rot:-90,fill:'#333'});
 
 
 var xl=txt(g,c.titleX,569,'time',6.4,{anchor:'middle',weight:'bold',fill:'#222'});
 
 
}
drawLines({name:'line-chart-i-achn',title:'ACHN',titleX:99,x0:35,xEnd:163,xStart:55,step:29.4,ylX:12,br:i1Br,series:[
 {n:i1Names[0],v:i1Ctrl,e:i1Ctrle,col:'#0000ff',m:'circle'},{n:i1Names[1],v:i1Setd,e:i1Setde,col:'#ff0000',m:'square'},{n:i1Names[2],v:i1Era,e:i1Erae,col:'#00c000',m:'up'},{n:i1Names[3],v:i1Sie,e:i1Siee,col:'#b000e0',m:'down'}]});
drawLines({name:'line-chart-i-a498',title:'A498',titleX:279,x0:216,xEnd:345,xStart:235,step:29.4,ylX:192,br:i2Br,series:[
 {n:i2Names[0],v:i2Ctrl,e:i2Ctrle,col:'#0000ff',m:'circle'},{n:i2Names[1],v:i2Era,e:i2Erae,col:'#ff0000',m:'square'},{n:i2Names[2],v:i2Combo,e:i2Comboe,col:'#00c000',m:'up'}]});

/* ---- flow histograms ---- */
function drawHist(c){
 var g=mk('g',{});
 
 
 var sx=function(v){return c.x0+(v-c.logMin)/(c.logMax-c.logMin)*(c.x1-c.x0);};
 var sy=function(v){return c.y0-v*1.23;};
 c.series.forEach(function(s,i){
  var pts=c.grid.map(function(x,j){return [sx(x),sy(s.v[j])];});
  var a=mk('path',{d:smooth(pts)+'L'+c.x1+' '+sy(c.base[i])+'L'+c.x0+' '+sy(c.base[i])+'Z',fill:s.col,'fill-opacity':.14},g);
  
  
  var l=mk('path',{d:smooth(pts),fill:'none',stroke:s.col,'stroke-width':.9},g);
  
  
  var sw=mk('rect',{x:c.x0+3.5,y:642+i*9.4-2,width:13.5,height:4,fill:s.col,'fill-opacity':.15,stroke:s.col,'stroke-width':.7,rx:1},g);
  
  
  var lt=txt(g,c.x0+21.5,642+i*9.4+2,s.n,5.2,{fill:'#333'});
  
  
 });
 var fr=mk('rect',{x:c.x0,y:638,width:c.x1-c.x0,height:c.y0-638,fill:'none',stroke:'#222','stroke-width':.9},g);
 
 
 countTicks.forEach(function(v){
  var k=mk('line',{x1:c.x0-2.5,x2:c.x0,y1:sy(v),y2:sy(v),stroke:'#222','stroke-width':.7},g);
  
  
  var l=txt(g,c.x0-5,sy(v),String(v),5.4,{anchor:'middle',rot:-90,fill:'#333'});
  
  
 });
 c.xTicks.forEach(function(v){
  var k=mk('line',{x1:sx(v),x2:sx(v),y1:c.y0,y2:c.y0+2.5,stroke:'#222','stroke-width':.7},g);
  
  
  var l=txt(g,sx(v)-2,c.y0+9.5,'10',5.4,{anchor:'middle',fill:'#333'});
  
  
  var e=txt(g,sx(v)+1,c.y0+7.5,String(v),3.8,{fill:'#333'});
  
  
 });
 for(var d=Math.ceil(c.logMin);d<c.logMax;d++){ [2,3,4,5,6,7,8,9].forEach(function(m){
  var lv=d+Math.log10(m);
  if(lv<c.logMax){
   var k=mk('line',{x1:sx(lv),x2:sx(lv),y1:c.y0,y2:c.y0+1.4,stroke:'#444','stroke-width':.4},g);
   
   
  }
 }); }
 var yl=txt(g,c.ylX,706,'Count  (%)',5.2,{anchor:'middle',rot:-90,fill:'#333'});
 
 
 var xl=txt(g,(c.x0+c.x1)/2,791,'FITC-H',5.2,{anchor:'middle',fill:'#333'});
 
 
}
drawHist({name:'flow-histogram-l',x0:308,x1:443,y0:772,logMin:2.5,logMax:6.5,grid:histLX,base:histLBase,xTicks:[2.5,4,5,6.5],ylX:289,series:[
 {n:histLNames[0],v:histLCtrl,col:'#f23c3c'},{n:histLNames[1],v:histLSetd,col:'#2a8c2a'},{n:histLNames[2],v:histLEra,col:'#3a3af5'},{n:histLNames[3],v:histLCombo,col:'#a83434'}]});
drawHist({name:'flow-histogram-m',x0:645,x1:781,y0:773,logMin:1.7,logMax:6.7,grid:histMX,base:histMBase,xTicks:[1.7,3,4,5,6,6.7],ylX:627,series:[
 {n:histMNames[0],v:histMCtrl,col:'#f23c3c'},{n:histMNames[1],v:histMEra,col:'#2a8c2a'},{n:histMNames[2],v:histMCombo,col:'#3a3af5'}]});

/* ---- micrograph textures (not chart data) ---- */
var fid=0;
function hex(h,i){return parseInt(h.substr(1+i*2,2),16)/255;}
function noiseLayer(g,x,y,w,h,col,seed,f,k,off){
 fid++;
 var fl=mk('filter',{id:'m'+fid,x:0,y:0,width:1,height:1,'color-interpolation-filters':'sRGB'},defs);
 mk('feTurbulence',{type:'fractalNoise',baseFrequency:f,numOctaves:1,seed:seed},fl);
 mk('feColorMatrix',{type:'matrix',values:'0 0 0 0 '+hex(col,0).toFixed(3)+' 0 0 0 0 '+hex(col,1).toFixed(3)+' 0 0 0 0 '+hex(col,2).toFixed(3)+' 0 0 0 '+k+' '+off},fl);
 var r=mk('rect',{x:x,y:y,width:w,height:h,fill:'#000',filter:'url(#m'+fid+')'},g);
 
 
}
function micro(parent,x,y,w,h,bg,fg,seed,k,off,extra){
 var b=mk('rect',{x:x,y:y,width:w,height:h,fill:bg},parent);
 
 
 noiseLayer(parent,x,y,w,h,fg,seed,.3,k,off);
 if(extra)noiseLayer(parent,x,y,w,h,extra,seed+9,.22,9,-5.6);
}
var J=document.getElementById('microJ'),K=document.getElementById('microK');
var jCols=[384,441,500,558],jRows=[398,441,485,529];
var jTiles=[
 [['#3a0a05','#d8341c',6,-3.0],['#062018','#146a50',5,-2.7],['#04044a','#1a1ae8',7,-4.0],['#2a1030','#c868a8',6,-3.0]],
 [['#300a05','#d8341c',6,-3.0],['#021a0c','#108a48',6,-3.4],['#030340','#1c1cf4',7,-3.7],['#201030','#c878a8',6,-3.0]],
 [['#3a0c06','#dc3a20',6,-3.1],['#0a3020','#28b888',6,-3.2],['#02023a','#1414f5',7,-3.9],['#281838','#e0bce0',6,-3.3]],
 [['#0a0000','#f40c0c',12,-6.8],['#084028','#38e8a8',7,-3.5],['#020240','#1212c8',6,-3.3],['#0c2c3c','#9ae4f4',7,-3.7]]];
jRows.forEach(function(ry,r){jCols.forEach(function(cx,c){var t=jTiles[r][c];micro(J,cx,ry,55,41,t[0],t[1],r*4+c+3,t[2],t[3]);});});
var kCols=[28,85,142,199],kRows=[640,683,725];
var kTiles=[
 [['#3c0c08','#b82c1a',5,-2.6],['#020e06','#0c4422',5,-2.8],['#020228','#1c1cd8',8,-4.8],['#2a1810','#8a70c8',7,-4.2]],
 [['#180404','#ee3412',8,-4.6],['#021004','#22d868',9,-5.5],['#020228','#1212d8',8,-5],['#201808','#f4e49a',8,-4.7]],
 [['#580e08','#dc3218',5,-2.6],['#0a3016','#229a4c',5,-2.6],['#020230','#1a1ae4',8,-4.6],['#702808','#e88018',5,-2.5,'#5a50e0']]];
kRows.forEach(function(ry,r){kCols.forEach(function(cx,c){var t=kTiles[r][c];micro(K,cx,ry,55,41,t[0],t[1],r*4+c+31,t[2],t[3],t[4]);});});
</script>
</body>
</html>
